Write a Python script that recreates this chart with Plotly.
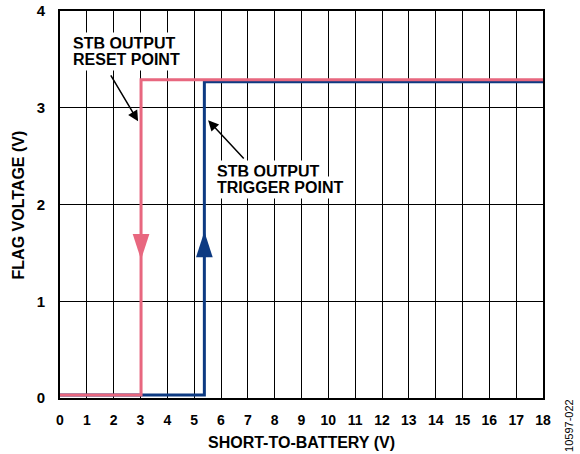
import plotly.graph_objects as go

# ---- data ----
reset_x = [0, 3.02, 3.02, 18]
reset_y = [0.03, 0.03, 3.29, 3.29]
trigger_x = [0, 5.38, 5.38, 18]
trigger_y = [0.03, 0.03, 3.27, 3.27]

# direction arrowheads on the transitions (tip positions)
reset_dir_x = [3.02]
reset_dir_y = [1.43]
trigger_dir_x = [5.38]
trigger_dir_y = [1.72]

x_ticks = list(range(0, 19))
x_tick_labels = [str(v) for v in x_ticks]
y_ticks = [0, 1, 2, 3, 4]
y_tick_labels = [str(v) for v in y_ticks]

PINK = "#E8677F"
BLUE = "#0D3A82"
FONT = "Liberation Sans, Arial, sans-serif"

fig = go.Figure()
fig.add_trace(go.Scatter(x=trigger_x, y=trigger_y, mode="lines",
                         line=dict(color=BLUE, width=3), hoverinfo="skip"))
fig.add_trace(go.Scatter(x=reset_x, y=reset_y, mode="lines",
                         line=dict(color=PINK, width=3), hoverinfo="skip"))
fig.add_trace(go.Scatter(x=reset_dir_x, y=reset_dir_y, mode="markers",
                         marker=dict(symbol="arrow", angle=180, size=27, color=PINK,
                                     line=dict(width=0)), hoverinfo="skip"))
fig.add_trace(go.Scatter(x=trigger_dir_x, y=trigger_dir_y, mode="markers",
                         marker=dict(symbol="arrow", angle=0, size=27, color=BLUE,
                                     line=dict(width=0)), hoverinfo="skip"))

def label(x, y, text):
    fig.add_annotation(x=x, y=y, xref="x", yref="y", text=f"<b>{text}</b>",
                       showarrow=False, xanchor="left", yanchor="middle",
                       bgcolor="white", borderpad=2,
                       font=dict(family=FONT, size=16, color="black"))

label(0.36, 3.665, "STB OUTPUT")
label(0.36, 3.495, "RESET POINT")
label(5.73, 2.345, "STB OUTPUT")
label(5.73, 2.18, "TRIGGER POINT")

# pointer arrows
fig.add_annotation(x=2.91, y=2.86, ax=1.86, ay=3.35, xref="x", yref="y",
                   axref="x", ayref="y", text="", showarrow=True,
                   arrowhead=2, arrowsize=1.4, arrowwidth=1.5, arrowcolor="black")
fig.add_annotation(x=5.52, y=2.87, ax=6.9, ay=2.46, xref="x", yref="y",
                   axref="x", ayref="y", text="", showarrow=True,
                   arrowhead=2, arrowsize=1.4, arrowwidth=1.5, arrowcolor="black")

# axis titles
fig.add_annotation(x=0.5, y=-0.115, xref="paper", yref="paper",
                   text="<b>SHORT-TO-BATTERY (V)</b>", showarrow=False,
                   xanchor="center", yanchor="middle",
                   font=dict(family=FONT, size=16, color="black"))
fig.add_annotation(x=-0.085, y=0.5, xref="paper", yref="paper",
                   text="<b>FLAG VOLTAGE (V)</b>", showarrow=False, textangle=-90,
                   xanchor="center", yanchor="middle",
                   font=dict(family=FONT, size=16, color="black"))
fig.add_annotation(x=1.054, y=-0.072, xref="paper", yref="paper",
                   text="10597-022", showarrow=False, textangle=-90,
                   xanchor="center", yanchor="middle",
                   font=dict(family=FONT, size=11, color="black"))

fig.update_xaxes(range=[0, 18], tickvals=x_ticks, ticktext=[f"<b>{t}</b>" for t in x_tick_labels],
                 showgrid=True, gridcolor="black", gridwidth=1.2,
                 showline=True, linecolor="black", linewidth=2, mirror=True,
                 ticks="", ticklabelstandoff=8, zeroline=False, automargin=False,
                 tickfont=dict(family=FONT, size=14, color="black"))
fig.update_yaxes(range=[0, 4], tickvals=y_ticks, ticktext=[f"<b>{t}</b>" for t in y_tick_labels],
                 showgrid=True, gridcolor="black", gridwidth=1.2,
                 showline=True, linecolor="black", linewidth=2, mirror=True,
                 ticks="", ticklabelstandoff=10, zeroline=False, automargin=False,
                 tickfont=dict(family=FONT, size=15, color="black"))

fig.update_layout(width=580, height=454, margin=dict(l=60, r=37, t=11, b=56, autoexpand=False),
                  paper_bgcolor="white", plot_bgcolor="white", showlegend=False)

fig.write_html("out.html", config={"displayModeBar": False},
               post_script="document.body.style.margin='0';document.body.style.padding='0';"
                           "document.documentElement.style.margin='0';")
